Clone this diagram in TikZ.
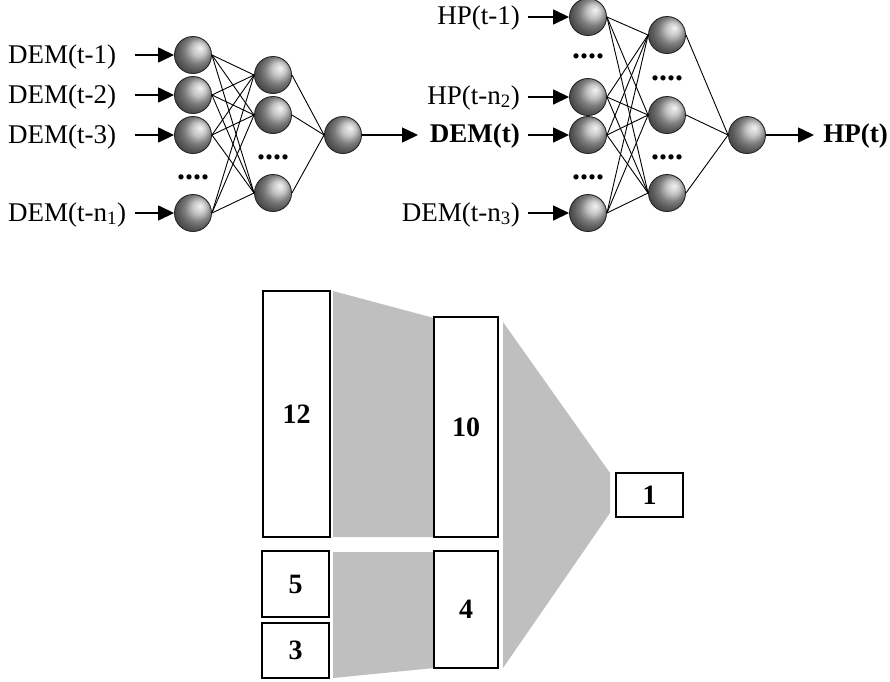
\documentclass[tikz,border=0pt]{standalone}
\usepackage{fontspec}
\setmainfont{Liberation Serif}
\usetikzlibrary{arrows.meta}
\begin{document}
\begin{tikzpicture}[x=1pt,y=-1pt,
  neuron/.style={circle, minimum size=37pt, inner sep=0pt, draw=black!85, line width=0.9pt, ball color=gray!60, shading angle=-90},
  lbl/.style={font=\fontsize{27}{30}\selectfont, inner sep=0pt},
  blbl/.style={font=\fontsize{27}{30}\selectfont\bfseries, inner sep=0pt},
  dotsn/.style={font=\fontsize{32}{34}\selectfont\bfseries, inner sep=0pt, anchor=base},
  conn/.style={line width=0.9pt, black},
  arr/.style={line width=1.5pt, -{Triangle[length=16pt,width=15pt]}},
  layerbox/.style={draw, line width=2.4pt, fill=white, inner sep=0pt, font=\fontsize{28}{30}\selectfont\bfseries},
  band/.style={fill=black!25, draw=none}
]
\useasboundingbox (0,0) rectangle (890,681);

% ---------- Network 1 ----------
\node[neuron] (i1) at (193,55) {};
\node[neuron] (i2) at (193,95) {};
\node[neuron] (i3) at (193,135) {};
\node[neuron] (i4) at (193,213) {};
\node[neuron] (h1) at (273,75) {};
\node[neuron] (h2) at (273,115) {};
\node[neuron] (h3) at (273,193) {};
\node[neuron] (o1) at (343,135) {};
\node[dotsn] (d1) at (193,179) {....};
\node[dotsn] (d2) at (273,159) {....};

\foreach \i in {i1,i2,i3,i4}{
  \foreach \h in {h1,h2,h3}{
    \draw[conn] (\i.east) -- (\h.west);
  }
}
\foreach \h in {h1,h2,h3}{
  \draw[conn] (\h.east) -- (o1.west);
}

\node[lbl, anchor=base west] (l1) at (8,63) {DEM(t-1)};
\node[lbl, anchor=base west] (l2) at (8,103) {DEM(t-2)};
\node[lbl, anchor=base west] (l3) at (8,143) {DEM(t-3)};
\node[lbl, anchor=base west] (l4) at (8,221) {DEM(t-n\textsubscript{1})};
\coordinate (a1) at (135,55);
\coordinate (a2) at (135,95);
\coordinate (a3) at (135,135);
\coordinate (a4) at (135,213);
\draw[arr] (a1) -- (i1.west);
\draw[arr] (a2) -- (i2.west);
\draw[arr] (a3) -- (i3.west);
\draw[arr] (a4) -- (i4.west);

\coordinate (t1) at (418,135);
\draw[arr] (o1.east) -- (t1);

% ---------- Network 2 ----------
\node[neuron] (j1) at (588,17) {};
\node[neuron] (j2) at (588,97) {};
\node[neuron] (j3) at (588,135) {};
\node[neuron] (j4) at (588,213) {};
\node[neuron] (k1) at (667,35) {};
\node[neuron] (k2) at (667,115) {};
\node[neuron] (k3) at (667,193) {};
\node[neuron] (o2) at (747,135) {};
\node[dotsn] (d3) at (588,58) {....};
\node[dotsn] (d4) at (588,179) {....};
\node[dotsn] (d5) at (667,80) {....};
\node[dotsn] (d6) at (667,159) {....};

\foreach \i in {j1,j2,j3,j4}{
  \foreach \h in {k1,k2,k3}{
    \draw[conn] (\i.east) -- (\h.west);
  }
}
\foreach \h in {k1,k2,k3}{
  \draw[conn] (\h.east) -- (o2.west);
}

\node[lbl, anchor=base east] (m1) at (520,24) {HP(t-1)};
\node[lbl, anchor=base east] (m2) at (520,104) {HP(t-n\textsubscript{2})};
\node[blbl, anchor=base east] (m3) at (520,142) {DEM(t)};
\node[lbl, anchor=base east] (m4) at (520,221) {DEM(t-n\textsubscript{3})};
\coordinate (b1) at (528,17);
\coordinate (b2) at (528,97);
\coordinate (b3) at (528,135);
\coordinate (b4) at (528,213);
\draw[arr] (b1) -- (j1.west);
\draw[arr] (b2) -- (j2.west);
\draw[arr] (b3) -- (j3.west);
\draw[arr] (b4) -- (j4.west);

\coordinate (t2) at (814,135);
\draw[arr] (o2.east) -- (t2);
\node[blbl, anchor=base east] (hp) at (888,142) {HP(t)};

% ---------- Layer diagram ----------
\fill[band] (333,291) -- (434,318) -- (434,537) -- (333,537) -- cycle;
\fill[band] (333,552) -- (434,552) -- (434,668) -- (333,678) -- cycle;
\fill[band] (503,322) -- (610,473) -- (610,513) -- (503,668) -- cycle;

\node[layerbox, minimum width=67pt, minimum height=246pt] (n12) at (296.5,414) {12};
\node[layerbox, minimum width=64pt, minimum height=220pt] (n10) at (466,427) {10};
\node[layerbox, minimum width=67pt, minimum height=44pt] (n1) at (649.5,495) {1};
\node[layerbox, minimum width=67pt, minimum height=66pt] (n5) at (295.5,584) {5};
\node[layerbox, minimum width=67pt, minimum height=55pt] (n3) at (295.5,650.5) {3};
\node[layerbox, minimum width=64pt, minimum height=117pt] (n4) at (466,609.5) {4};
\end{tikzpicture}
\end{document}
